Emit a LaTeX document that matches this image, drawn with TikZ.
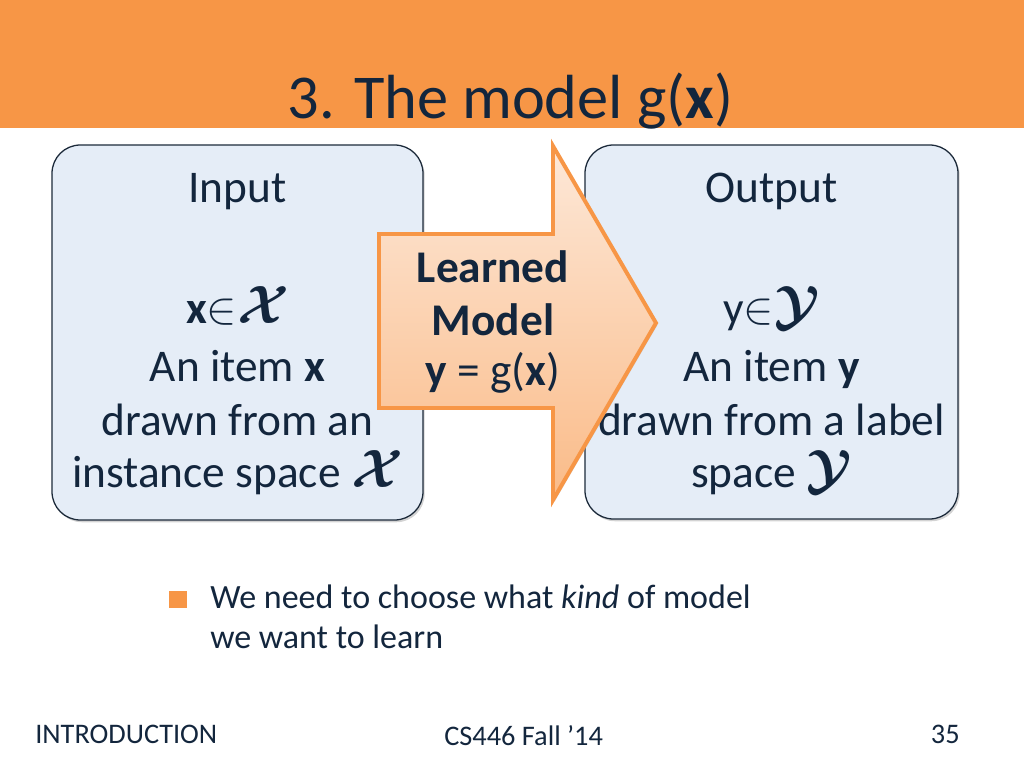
\RequirePackage{fix-cm}
\documentclass[tikz,border=0pt]{standalone}
\usepackage{amsmath}
\usepackage{fontspec}
\setmainfont{Carlito}
\usetikzlibrary{shadows}

\definecolor{slideorange}{HTML}{F79646}
\definecolor{slidetext}{HTML}{13263D}
\definecolor{boxfill}{HTML}{E5EDF7}
\definecolor{boxline}{HTML}{1C2A3A}
\definecolor{arrowtop}{HTML}{FDE8D8}
\definecolor{arrowbottom}{HTML}{FABB88}

\newcommand{\spacesym}[1]{{\fontsize{38}{38}\selectfont$\smash{\boldsymbol{\mathcal{#1}}}$}}

\begin{document}
\begin{tikzpicture}[x=0.248cm,y=0.248cm]
\tikzstyle{every node}+=[inner sep=0pt, text=slidetext]
\tikzstyle{boxtext}=[anchor=base, font=\fontsize{32}{38}\selectfont]
\tikzstyle{spacebox}=[draw=boxline, fill=boxfill, line width=0.9pt, rounded corners=20pt,
  drop shadow={shadow xshift=1.2pt, shadow yshift=-1.6pt, opacity=0.35}]
\tikzstyle{footer}=[font=\fontsize{20}{24}\selectfont]
\useasboundingbox (0,0) rectangle (102.4,-76.8);
% title bar
\fill [slideorange] (0,0) rectangle (102.4,-12.8);
\node (title) [anchor=base, font=\fontsize{44}{53}\selectfont] at (51.05,-11.8) {3. The model g(\textbf{x})};
% input and output boxes
\draw [spacebox] (5.2,-14.5) rectangle (42.3,-52.0);
\draw [spacebox] (58.5,-14.5) rectangle (95.8,-51.9);
\node (inhead) [boxtext] at (23.75,-20.2) {Input};
\node (inset) [boxtext] at (23.75,-32.3) {\textbf{x}$\in$\spacesym{X}};
\node (initem) [boxtext] at (23.75,-38.1) {An item \textbf{x}};
\node (indrawn) [boxtext] at (23.75,-43.5) {drawn from an};
\node (inspace) [boxtext] at (23.75,-48.7) {instance space \spacesym{X}};
\node (outhead) [boxtext] at (77.15,-20.2) {Output};
\node (outset) [boxtext] at (77.15,-32.3) {y$\in$\spacesym{Y}};
\node (outitem) [boxtext] at (77.15,-38.1) {An item \textbf{y}};
\node (outdrawn) [boxtext] at (77.15,-43.5) {drawn from a label};
\node (outspace) [boxtext] at (77.15,-48.7) {space \spacesym{Y}};
% model arrow
\draw [slideorange, line width=2.8pt, top color=arrowtop, bottom color=arrowbottom,
  drop shadow={shadow xshift=1pt, shadow yshift=-1.4pt, opacity=0.25}]
  (37.9,-23.4) -- (55.3,-23.4) -- (55.3,-14.6) -- (65.6,-32.3) -- (55.3,-50.0)
  -- (55.3,-40.8) -- (37.9,-40.8) -- cycle;
\node (learned) [boxtext] at (49.3,-28.2) {\textbf{Learned}};
\node (model) [boxtext] at (49.3,-33.5) {\textbf{Model}};
\node (rule) [boxtext] at (49.3,-38.5) {\textbf{y} = g(\textbf{x})};
% bullet
\fill [slideorange] (16.9,-59.1) rectangle (18.7,-60.8);
\node (bullet) [anchor=base west, font=\fontsize{24}{28}\selectfont] at (21.0,-60.8) {We need to choose what \textit{kind} of model};
\node (bulletcont) [anchor=base west, font=\fontsize{24}{28}\selectfont] at (21.0,-64.8) {we want to learn};
% footer
\node (footleft) [footer, anchor=base west] at (3.5,-74.3) {INTRODUCTION};
\node (footmid) [footer, anchor=base west] at (44.4,-74.5) {CS446 Fall ’14};
\node (footright) [footer, anchor=base east] at (96.0,-74.3) {35};
\end{tikzpicture}
\end{document}
